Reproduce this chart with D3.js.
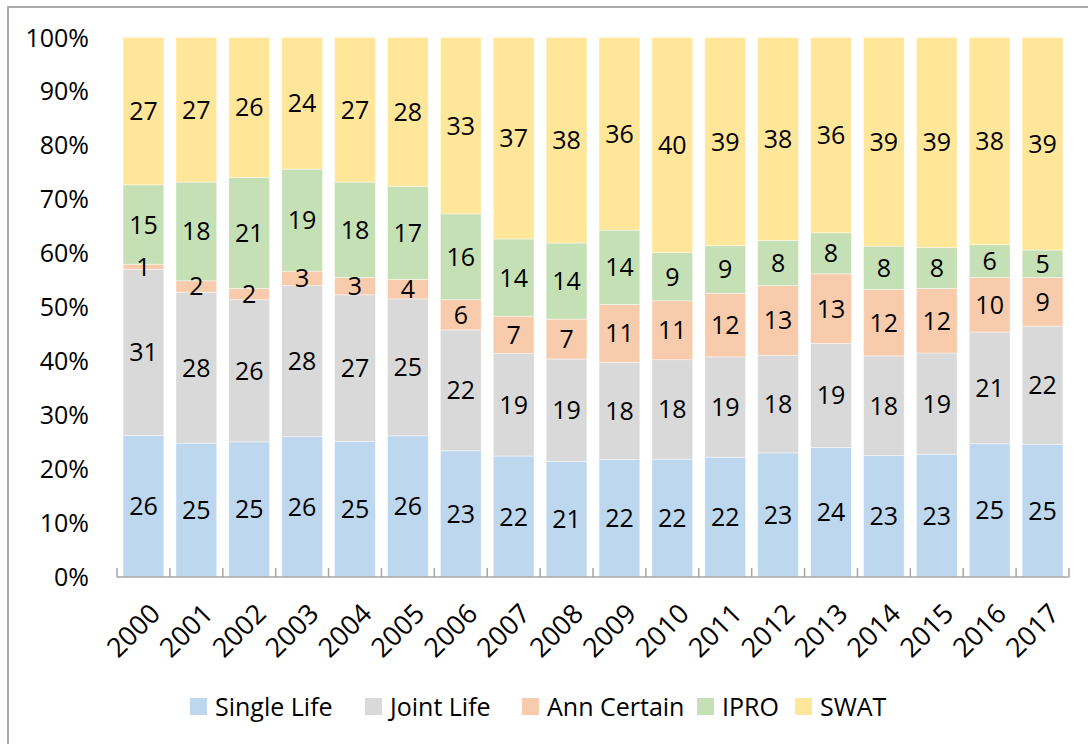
<!DOCTYPE html>
<html>
<head>
  <meta charset="UTF-8">
  <style>
    body { margin: 0; background: #fff; font-family: "Open Sans", sans-serif; }
    svg text { fill: #000; }
  </style>
</head>
<body>
  <svg width="1088" height="744"></svg>
  <script src="https://d3js.org/d3.v7.min.js"></script>
  <script>
    // chart data (shares in %, labels are the rounded values)
    let years = ["2000","2001","2002","2003","2004","2005","2006","2007","2008","2009",
                 "2010","2011","2012","2013","2014","2015","2016","2017"];
    let seriesNames = ["Single Life", "Joint Life", "Ann Certain", "IPRO", "SWAT"];
    let singleLife = [26.2, 24.8, 25.1, 26.0, 25.1, 26.2, 23.4, 22.4, 21.4, 21.8, 21.8, 22.2, 23.0, 24.0, 22.5, 22.8, 24.7, 24.6];
    let jointLife  = [30.8, 28.0, 26.4, 28.0, 27.2, 25.4, 22.4, 19.0, 19.0, 18.0, 18.4, 18.6, 18.1, 19.3, 18.4, 18.8, 20.7, 21.9];
    let annCertain = [0.96, 2.1, 2.1, 2.7, 3.2, 3.6, 5.6, 6.9, 7.4, 10.7, 10.9, 11.8, 12.9, 12.9, 12.3, 12.0, 10.1, 9.0];
    let ipro       = [14.7, 18.3, 20.6, 18.9, 17.7, 17.3, 15.9, 14.3, 14.1, 13.8, 8.9, 8.8, 8.4, 7.6, 8.0, 7.6, 6.1, 5.1];
    let swat       = [27.3, 26.8, 26.0, 24.4, 26.8, 27.6, 32.7, 37.3, 38.1, 35.7, 39.8, 38.6, 37.6, 36.2, 38.6, 39.0, 38.4, 39.4];
    let yTicks = [0, 0.1, 0.2, 0.3, 0.4, 0.5, 0.6, 0.7, 0.8, 0.9, 1];
    let colors = ["#bdd7ee", "#d9d9d9", "#f8cbad", "#c5e0b4", "#ffe699"];

    let svg = d3.select("svg");

    // outer chart frame (only left and top edges visible in the crop)
    svg.append("path")
        .attr("d", "M8,744 L8,7 L1088,7")
        .attr("fill", "none")
        .attr("stroke", "#acacac")
        .attr("stroke-width", 2);

    let rows = years.map((y, i) => ({
        year: y,
        "Single Life": singleLife[i],
        "Joint Life": jointLife[i],
        "Ann Certain": annCertain[i],
        "IPRO": ipro[i],
        "SWAT": swat[i]
    }));

    let stack = d3.stack().keys(seriesNames).offset(d3.stackOffsetExpand);
    let stacked = stack(rows);

    let x = d3.scaleBand()
        .domain(years)
        .range([117, 1069])
        .paddingInner(0.23)
        .paddingOuter(0.115);

    let y = d3.scaleLinear()
        .domain([0, 1])
        .range([577, 37.5]);

    let color = d3.scaleOrdinal().domain(seriesNames).range(colors);

    // bars
    let groups = svg.append("g")
        .selectAll("g")
        .data(stacked)
        .enter()
        .append("g")
        .attr("fill", d => color(d.key));

    groups.selectAll("rect")
        .data(d => d)
        .enter()
        .append("rect")
        .attr("x", d => x(d.data.year))
        .attr("y", d => y(d[1]))
        .attr("width", x.bandwidth())
        .attr("height", d => y(d[0]) - y(d[1]))
        .attr("stroke", "#ffffff")
        .attr("stroke-opacity", 0.5)
        .attr("stroke-width", 0.8);

    // data labels
    stacked.forEach(s => {
        svg.append("g")
            .selectAll("text")
            .data(s)
            .enter()
            .append("text")
            .attr("x", d => x(d.data.year) + x.bandwidth() / 2)
            .attr("y", d => (y(d[0]) + y(d[1])) / 2)
            .attr("dy", "0.36em")
            .attr("text-anchor", "middle")
            .style("font-size", "25px")
            .text(d => Math.round(d.data[s.key]));
    });

    // y axis labels (no axis line)
    svg.append("g")
        .selectAll("text")
        .data(yTicks)
        .enter()
        .append("text")
        .attr("x", 89)
        .attr("y", d => y(d))
        .attr("dy", "0.36em")
        .attr("text-anchor", "end")
        .style("font-size", "25px")
        .text(d => Math.round(d * 100) + "%");

    // x axis line + inside ticks at band edges
    let xAxis = svg.append("g");
    xAxis.append("line")
        .attr("x1", 117).attr("x2", 1069)
        .attr("y1", 577).attr("y2", 577)
        .attr("stroke", "#a6a6a6")
        .attr("stroke-width", 1.5);

    let edges = years.map(yr => x(yr) - x.step() * x.paddingInner() / 2);
    edges.push(1069);
    xAxis.selectAll(".tick")
        .data(edges)
        .enter()
        .append("line")
        .attr("class", "tick")
        .attr("x1", d => d).attr("x2", d => d)
        .attr("y1", 568).attr("y2", 577)
        .attr("stroke", "#a6a6a6")
        .attr("stroke-width", 1.5);

    xAxis.selectAll("text")
        .data(years)
        .enter()
        .append("text")
        .attr("transform", d => `translate(${x(d) + x.bandwidth() / 2 + 5},${602}) rotate(-45)`)
        .attr("text-anchor", "end")
        .attr("dy", "0.7em")
        .style("font-size", "27px")
        .text(d => d);

    // legend
    let legendX = [190, 365, 522, 697, 795];
    let legend = svg.append("g")
        .selectAll("g")
        .data(seriesNames)
        .enter()
        .append("g")
        .attr("transform", (d, i) => `translate(${legendX[i]},698)`);

    legend.append("rect")
        .attr("width", 17)
        .attr("height", 17)
        .attr("fill", d => color(d));

    legend.append("text")
        .attr("x", 25)
        .attr("y", 8.5)
        .attr("dy", "0.36em")
        .style("font-size", "25px")
        .text(d => d);
  </script>
</body>
</html>
